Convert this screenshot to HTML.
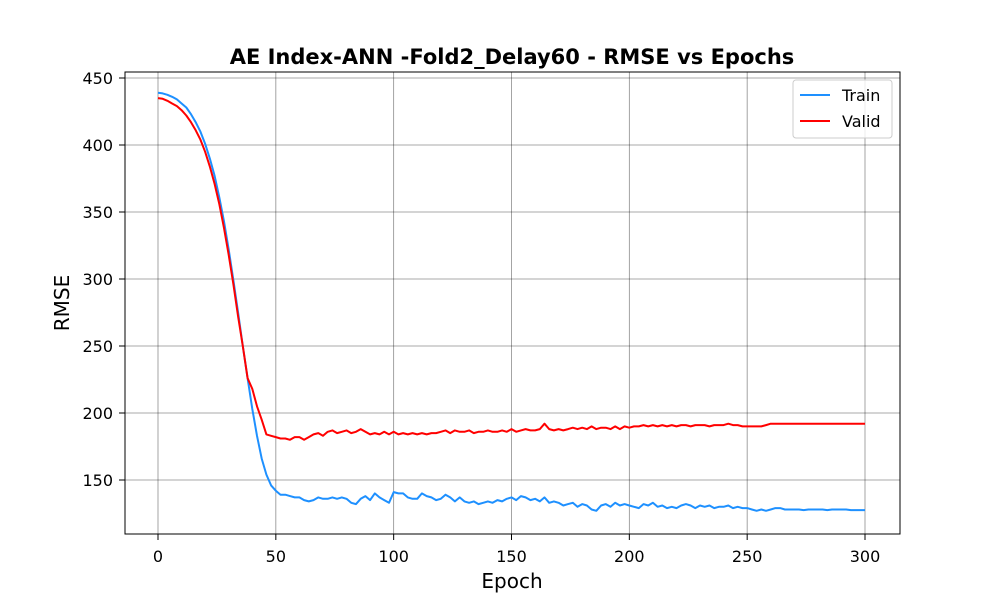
<!DOCTYPE html>
<html><head><meta charset="utf-8"><style>
body{margin:0;background:#fff;}
svg text{font-family:"DejaVu Sans","Liberation Sans",sans-serif;}
</style></head><body>
<svg id="chart" width="1000" height="600" xmlns="http://www.w3.org/2000/svg">
<rect width="1000" height="600" fill="#fff"/>
<text x="512" y="64" text-anchor="middle" font-size="21" font-weight="bold">AE Index-ANN -Fold2_Delay60 - RMSE vs Epochs</text>
<g id="grid"></g>
<g id="series"></g>
<rect x="125" y="72" width="775" height="462" fill="none" stroke="#000" stroke-width="1"/>
<g id="axes"></g>
<text x="512" y="588" text-anchor="middle" font-size="20">Epoch</text>
<text transform="translate(69,303) rotate(-90)" text-anchor="middle" font-size="20">RMSE</text>
<g>
<rect x="793" y="80" width="99" height="58" rx="3" fill="#fff" fill-opacity="0.8" stroke="#ccc"/>
<line x1="800" y1="95" x2="830" y2="95" stroke="#1e90ff" stroke-width="2"/>
<text x="842" y="101" font-size="16">Train</text>
<line x1="800" y1="121" x2="830" y2="121" stroke="#ff0000" stroke-width="2"/>
<text x="842" y="127" font-size="16">Valid</text>
</g>
</svg>
<script>
const xTicks=[0,50,100,150,200,250,300];
const yTicks=[150,200,250,300,350,400,450];
const trainLoss=[439,438.5,437.5,436,434,431,428,423,417,410,401,390,377,361,343,322,299,275,250,226,203,183,166,154,146,
142,139,139,138,137,137,135,134,135,137,136,136,137,136,137,136,133,132,136,138,135,140,137,135,133,141,140,140,137,136,136,140,138,137,135,136,139,137,134,137,134,133,134,132,133,134,133,135,134,136,137,135,138,137,135,136,134,137,133,134,133,131,132,133,130,132,131,128,127,131,132,130,133,131,132,131,130,129,132,131,133,130,131,129,130,129,131,132,131,129,131,130,131,129,130,130,131,129,130,129,129,128,127,128,127,128,129,129,128,128,128,128,127.5,128,128,128,128,127.5,128,128,128,128,127.5,127.5,127.5,127.5];
const validLoss=[435,434.5,433,431,429,426,422,417,411,404,395,384,371,356,338,318,296,272,250,226,218,205,195,184,183,
182,181,181,180,182,182,180,182,184,185,183,186,187,185,186,187,185,186,188,186,184,185,184,186,184,186,184,185,184,185,184,185,184,185,185,186,187,185,187,186,186,187,185,186,186,187,186,186,187,186,188,186,187,188,187,187,188,192,188,187,188,187,188,189,188,189,188,190,188,189,189,188,190,188,190,189,190,190,191,190,191,190,191,190,191,190,191,191,190,191,191,191,190,191,191,191,192,191,191,190,190,190,190,190,191,192,192,192,192,192,192,192,192,192,192,192,192,192,192,192,192,192,192,192,192,192];
const epochStep=2;
const X0=158,X1=865,Y150=480,Y450=78;
const sx=v=>X0+(v-0)*(X1-X0)/300;
const sy=v=>Y150+(v-150)*(Y450-Y150)/300;
const NS='http://www.w3.org/2000/svg';
const grid=document.getElementById('grid'),axes=document.getElementById('axes'),ser=document.getElementById('series');
function mk(tag,attrs,parent){const e=document.createElementNS(NS,tag);for(const k in attrs)e.setAttribute(k,attrs[k]);parent.appendChild(e);return e;}
xTicks.forEach(t=>{
  const x=sx(t);
  const g=mk('line',{x1:x,x2:x,y1:72,y2:534,stroke:'#000','stroke-opacity':0.45,'stroke-width':0.8},grid);
  
  
  mk('line',{x1:x,x2:x,y1:534,y2:540,stroke:'#000','stroke-width':1},axes);
  const tx=mk('text',{x:x,y:562,'text-anchor':'middle','font-size':16},axes);
  tx.textContent=t;
  
  
});
yTicks.forEach(t=>{
  const y=sy(t);
  const g=mk('line',{x1:125,x2:900,y1:y,y2:y,stroke:'#000','stroke-opacity':0.45,'stroke-width':0.8},grid);
  
  
  mk('line',{x1:119,x2:125,y1:y,y2:y,stroke:'#000','stroke-width':1},axes);
  const tx=mk('text',{x:113,y:y+6,'text-anchor':'end','font-size':16},axes);
  tx.textContent=t;
  
  
});
function line(data,color,name){
  const d=data.map((v,i)=>(i?'L':'M')+sx(i*epochStep).toFixed(1)+' '+sy(v).toFixed(1)).join(' ');
  const p=mk('path',{d:d,fill:'none',stroke:color,'stroke-width':2,'stroke-linejoin':'round'},ser);
  
  
}
line(trainLoss,'#1e90ff','train-line');
line(validLoss,'#ff0000','valid-line');
</script>
</body></html>
